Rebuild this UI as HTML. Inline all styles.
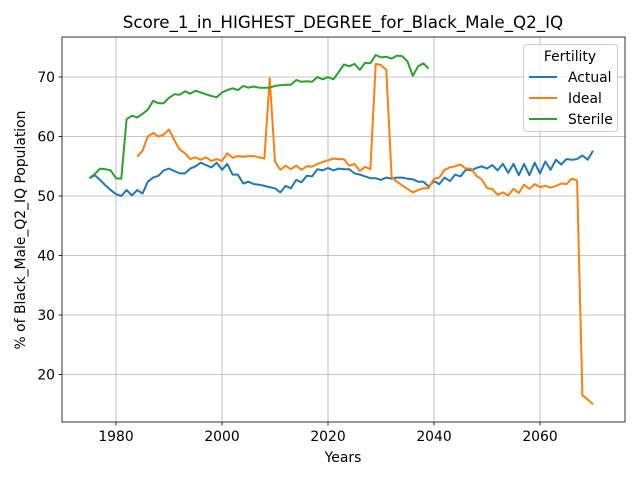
<!DOCTYPE html>
<html><head><meta charset="utf-8"><style>
body{margin:0;background:#fff}
svg{display:block;font-family:"DejaVu Sans","Liberation Sans",sans-serif}
</style></head><body>
<svg id="chart" width="640" height="480"></svg>
<script>
const years0=1975;
const actual=[53.0,53.5,52.7,51.8,51.0,50.3,50.0,51.0,50.1,51.0,50.4,52.4,53.1,53.4,54.3,54.6,54.2,53.8,53.8,54.6,55.0,55.6,55.2,54.8,55.6,54.4,55.4,53.6,53.6,52.1,52.4,52.0,51.9,51.7,51.5,51.3,50.6,51.7,51.3,52.7,52.3,53.4,53.3,54.5,54.3,54.7,54.3,54.6,54.5,54.5,53.8,53.6,53.3,53.0,53.0,52.7,53.1,52.9,53.1,53.1,52.9,52.8,52.4,52.4,51.6,52.5,52.0,53.1,52.5,53.6,53.3,54.4,54.3,54.7,55.0,54.6,55.2,54.3,55.4,53.9,55.4,53.5,55.4,53.5,55.6,53.8,55.8,54.4,56.1,55.3,56.2,56.1,56.2,56.8,56.1,57.6];
const idealStart=1984;
const ideal=[56.6,57.6,60.0,60.6,60.0,60.3,61.2,59.4,57.8,57.2,56.2,56.5,56.1,56.5,55.9,56.2,55.9,57.2,56.4,56.7,56.6,56.7,56.7,56.5,56.3,69.8,55.8,54.4,55.1,54.5,55.1,54.4,55.0,54.9,55.4,55.7,56.0,56.3,56.2,56.2,55.1,55.4,54.2,54.9,54.5,72.2,72.0,71.2,53.2,52.4,51.8,51.2,50.6,51.0,51.3,51.3,52.9,53.1,54.4,54.8,55.0,55.3,54.6,54.6,53.4,52.8,51.3,51.2,50.2,50.6,50.1,51.2,50.5,51.9,51.2,52.0,51.5,51.7,51.4,51.7,52.1,52.0,52.9,52.6,16.5,15.8,15.0];
const sterile=[53.0,53.7,54.6,54.5,54.3,53.0,52.9,62.9,63.5,63.2,63.8,64.5,66.0,65.6,65.6,66.5,67.1,67.0,67.6,67.2,67.7,67.4,67.1,66.8,66.6,67.4,67.8,68.1,67.8,68.5,68.2,68.4,68.2,68.2,68.2,68.5,68.6,68.7,68.7,69.5,69.2,69.3,69.2,70.0,69.6,70.0,69.6,70.8,72.1,71.8,72.2,71.2,72.4,72.3,73.7,73.3,73.4,73.1,73.6,73.5,72.6,70.2,71.8,72.3,71.4];
const xTicks=[1980,2000,2020,2040,2060];
const yTicks=[20,30,40,50,60,70];
const L=62,R=625,T=37,B=422;
const X=y=>116+(y-1980)*5.3;
const Y=v=>196-(v-50)*5.95;
const svg=document.getElementById('chart');
const NS='http://www.w3.org/2000/svg';
function mk(tag,attrs,parent){const e=document.createElementNS(NS,tag);for(const k in attrs)e.setAttribute(k,attrs[k]);(parent||svg).appendChild(e);return e;}
xTicks.forEach(t=>{
 const g=mk('line',{x1:X(t),x2:X(t),y1:T,y2:B,stroke:'#b0b0b0','stroke-width':0.8});
 
 
 mk('line',{x1:X(t),x2:X(t),y1:B,y2:B+3.5,stroke:'#000','stroke-width':0.8});
 const tx=mk('text',{x:X(t),y:B+19,'text-anchor':'middle','font-size':13.9});tx.textContent=t;
 
 
});
yTicks.forEach(t=>{
 const g=mk('line',{x1:L,x2:R,y1:Y(t),y2:Y(t),stroke:'#b0b0b0','stroke-width':0.8});
 
 
 mk('line',{x1:L-3.5,x2:L,y1:Y(t),y2:Y(t),stroke:'#000','stroke-width':0.8});
 const tx=mk('text',{x:L-7,y:Y(t)+5,'text-anchor':'end','font-size':13.9});tx.textContent=t;
 
 
});
function series(arr,start,color,name){
 const pts=arr.map((v,i)=>X(start+i).toFixed(1)+','+Y(v).toFixed(1)).join(' ');
 const p=mk('polyline',{points:pts,fill:'none',stroke:color,'stroke-width':2,'stroke-linejoin':'round'});
 
 
}
series(actual,years0,'#1f77b4','actual-line');
series(ideal,idealStart,'#ff7f0e','ideal-line');
series(sterile,years0,'#2ca02c','sterile-line');
const fr=mk('rect',{x:L,y:T,width:R-L,height:B-T,fill:'none',stroke:'#000','stroke-width':0.8});


</script>
<svg width="640" height="480" style="position:absolute;left:0;top:0">
<text x="343" y="28" text-anchor="middle" font-size="16.7">Score_1_in_HIGHEST_DEGREE_for_Black_Male_Q2_IQ</text>
<text x="343" y="462" text-anchor="middle" font-size="13.9">Years</text>
<text transform="translate(25,230) rotate(-90)" text-anchor="middle" font-size="13.9">% of Black_Male_Q2_IQ Population</text>
<g>
<rect x="523.5" y="44.5" width="94" height="87" rx="3" fill="#fff" fill-opacity="0.8" stroke="#ccc"/>
<text x="570" y="61" text-anchor="middle" font-size="13.9">Fertility</text>
<line x1="529" x2="557" y1="77" y2="77" stroke="#1f77b4" stroke-width="2"/>
<text x="568" y="82" font-size="13.9">Actual</text>
<line x1="529" x2="557" y1="98" y2="98" stroke="#ff7f0e" stroke-width="2"/>
<text x="568" y="103" font-size="13.9">Ideal</text>
<line x1="529" x2="557" y1="119" y2="119" stroke="#2ca02c" stroke-width="2"/>
<text x="568" y="124" font-size="13.9">Sterile</text>
</g>
</svg>
</body></html>
